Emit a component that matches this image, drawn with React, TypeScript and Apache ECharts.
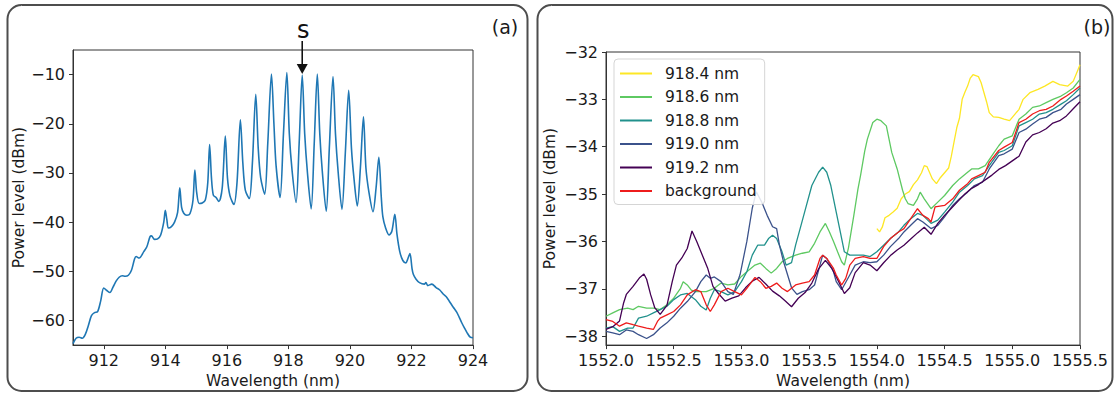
import React, { useEffect, useRef } from "react";
import * as echarts from "echarts";

// ---------- Panel (a): comb spectrum ----------
const combSpectrum: [number, number][] = [
  [911.0, -64.7], [911.1, -63.6], [911.2, -63.4], [911.3, -63.6], [911.4, -62.8], [911.5, -61.0],
  [911.6, -59.0], [911.7, -58.4], [911.8, -58.2], [911.9, -56.0], [912.0, -53.4], [912.1, -53.9],
  [912.2, -54.3], [912.3, -53.2], [912.4, -52.0], [912.5, -51.2], [912.6, -50.9], [912.7, -51.0],
  [912.8, -50.8], [912.9, -49.8], [913.0, -47.5], [913.05, -47.0], [913.15, -47.3], [913.3, -46.0],
  [913.4, -45.0], [913.5, -43.0], [913.55, -42.8], [913.65, -43.5], [913.75, -43.4], [913.85, -42.6],
  [913.95, -40.0], [914.0, -37.6], [914.05, -39.5], [914.1, -41.2], [914.2, -40.9], [914.3, -40.0],
  [914.4, -38.0], [914.47, -33.0], [914.53, -37.0], [914.6, -38.2], [914.7, -38.6], [914.8, -38.3],
  [914.9, -35.5], [914.96, -29.4], [915.02, -34.0], [915.1, -36.2], [915.2, -36.1], [915.3, -35.5],
  [915.38, -32.0], [915.44, -24.2], [915.5, -31.0], [915.56, -34.5], [915.65, -35.0], [915.74, -35.8],
  [915.85, -33.0], [915.95, -22.5], [916.02, -31.0], [916.1, -34.6], [916.23, -36.4], [916.33, -32.0],
  [916.44, -19.2], [916.52, -28.0], [916.6, -33.5], [916.73, -35.2], [916.83, -28.0], [916.94, -14.0],
  [917.02, -25.0], [917.1, -31.0], [917.23, -34.3], [917.33, -24.0], [917.45, -9.9], [917.53, -20.0],
  [917.6, -28.5], [917.73, -35.0], [917.84, -22.0], [917.95, -9.6], [918.03, -22.0], [918.12, -29.5],
  [918.25, -36.0], [918.35, -24.0], [918.45, -10.1], [918.53, -22.0], [918.62, -30.0], [918.74, -37.3],
  [918.84, -24.0], [918.94, -9.9], [919.02, -22.0], [919.1, -29.5], [919.23, -37.8], [919.33, -25.0],
  [919.45, -10.4], [919.53, -22.0], [919.62, -30.0], [919.74, -37.4], [919.85, -26.0], [919.96, -13.2],
  [920.05, -25.0], [920.13, -31.0], [920.24, -36.7], [920.34, -29.0], [920.44, -18.6], [920.52, -29.0],
  [920.62, -34.0], [920.75, -37.9], [920.85, -33.0], [920.94, -26.8], [921.02, -35.0], [921.07, -38.9],
  [921.16, -41.2], [921.27, -42.6], [921.36, -41.9], [921.46, -38.4], [921.53, -42.5], [921.62, -46.0],
  [921.72, -47.8], [921.82, -48.3], [921.88, -47.5], [921.95, -46.4], [922.02, -49.5], [922.06, -50.6],
  [922.15, -51.6], [922.26, -52.3], [922.42, -52.6], [922.47, -52.3], [922.53, -52.9], [922.66, -52.6],
  [922.8, -53.3], [922.92, -53.8], [923.03, -54.6], [923.15, -55.3], [923.25, -56.3], [923.36, -57.3],
  [923.47, -58.3], [923.55, -59.3], [923.63, -60.4], [923.72, -61.5], [923.8, -62.4], [923.91, -63.4],
  [924.0, -63.5],
];

// ---------- Panel (b): spectra per pump wavelength ----------
const s918_4: [number, number][] = [
  [1554.0, -35.73], [1554.02, -35.8], [1554.04, -35.7], [1554.06, -35.5], [1554.09, -35.45], [1554.12, -35.38],
  [1554.15, -35.3], [1554.18, -35.1], [1554.21, -35.0], [1554.24, -34.95], [1554.27, -34.8], [1554.3, -34.7],
  [1554.33, -34.55], [1554.35, -34.4], [1554.37, -34.42], [1554.39, -34.55], [1554.41, -34.68], [1554.44, -34.78],
  [1554.47, -34.65], [1554.5, -34.55], [1554.53, -34.45], [1554.55, -34.2], [1554.57, -33.9], [1554.59, -33.6],
  [1554.61, -33.4], [1554.63, -33.0], [1554.65, -32.85], [1554.67, -32.72], [1554.69, -32.55], [1554.71, -32.48],
  [1554.73, -32.5], [1554.75, -32.52], [1554.77, -32.65], [1554.79, -32.85], [1554.81, -33.05], [1554.83, -33.28],
  [1554.86, -33.37], [1554.9, -33.38], [1554.94, -33.42], [1554.98, -33.45], [1555.0, -33.38], [1555.05, -33.21],
  [1555.08, -33.0], [1555.13, -32.86], [1555.19, -32.79], [1555.24, -32.72], [1555.3, -32.62], [1555.35, -32.69],
  [1555.41, -32.72], [1555.45, -32.62], [1555.48, -32.41], [1555.5, -32.27],
];
const s918_6: [number, number][] = [
  [1552.0, -37.58], [1552.05, -37.51], [1552.1, -37.44], [1552.16, -37.41], [1552.2, -37.44], [1552.24, -37.37],
  [1552.3, -37.41], [1552.35, -37.41], [1552.4, -37.44], [1552.45, -37.34], [1552.5, -37.2], [1552.55, -36.99],
  [1552.57, -36.85], [1552.6, -36.92], [1552.63, -37.03], [1552.66, -37.06], [1552.7, -37.06], [1552.74, -37.06],
  [1552.8, -36.99], [1552.85, -36.88], [1552.9, -36.92], [1552.95, -36.9], [1553.0, -36.74], [1553.04, -36.64],
  [1553.1, -36.5], [1553.14, -36.46], [1553.18, -36.57], [1553.22, -36.67], [1553.26, -36.57], [1553.3, -36.43],
  [1553.34, -36.36], [1553.4, -36.29], [1553.45, -36.25], [1553.5, -36.22], [1553.54, -36.04], [1553.58, -35.8],
  [1553.62, -35.62], [1553.65, -35.8], [1553.68, -36.0], [1553.71, -36.22], [1553.74, -36.43], [1553.76, -36.5],
  [1553.79, -36.14], [1553.83, -35.45], [1553.86, -34.9], [1553.88, -34.6], [1553.91, -34.1], [1553.93, -33.84],
  [1553.97, -33.49], [1554.0, -33.42], [1554.03, -33.45], [1554.07, -33.56], [1554.11, -34.12], [1554.15, -34.47],
  [1554.19, -34.92], [1554.21, -35.1], [1554.23, -35.2], [1554.27, -35.24], [1554.3, -35.1], [1554.32, -34.96],
  [1554.35, -35.1], [1554.4, -35.31], [1554.45, -35.17], [1554.5, -35.03], [1554.56, -34.82], [1554.61, -34.68],
  [1554.67, -34.54], [1554.7, -34.47], [1554.75, -34.47], [1554.8, -34.4], [1554.85, -34.19], [1554.9, -33.98],
  [1554.94, -33.84], [1555.0, -33.77], [1555.05, -33.42], [1555.1, -33.31], [1555.15, -33.17], [1555.2, -33.14],
  [1555.25, -33.07], [1555.3, -33.0], [1555.36, -32.93], [1555.4, -32.86], [1555.45, -32.76], [1555.5, -32.58],
];
const s918_8: [number, number][] = [
  [1552.0, -37.83], [1552.05, -37.8], [1552.1, -37.9], [1552.16, -37.83], [1552.2, -37.83], [1552.24, -37.62],
  [1552.3, -37.58], [1552.35, -37.51], [1552.4, -37.44], [1552.45, -37.37], [1552.5, -37.23], [1552.55, -37.13],
  [1552.6, -37.1], [1552.66, -37.23], [1552.7, -37.37], [1552.74, -37.45], [1552.77, -37.2], [1552.8, -37.02],
  [1552.85, -37.06], [1552.9, -37.13], [1552.95, -37.06], [1553.0, -36.85], [1553.04, -36.64], [1553.08, -36.29],
  [1553.12, -36.08], [1553.17, -36.08], [1553.2, -35.94], [1553.23, -35.87], [1553.26, -35.94], [1553.3, -36.22],
  [1553.33, -36.5], [1553.37, -36.45], [1553.4, -36.08], [1553.44, -35.66], [1553.48, -35.24], [1553.52, -34.82],
  [1553.57, -34.54], [1553.6, -34.43], [1553.63, -34.54], [1553.66, -34.82], [1553.7, -35.38], [1553.73, -35.8],
  [1553.76, -36.22], [1553.8, -36.29], [1553.84, -36.29], [1553.9, -36.29], [1553.95, -36.32], [1554.0, -36.22],
  [1554.05, -36.08], [1554.1, -35.94], [1554.16, -35.8], [1554.2, -35.66], [1554.25, -35.52], [1554.3, -35.41],
  [1554.34, -35.45], [1554.4, -35.62], [1554.45, -35.55], [1554.5, -35.38], [1554.56, -35.17], [1554.61, -34.96],
  [1554.67, -34.82], [1554.72, -34.68], [1554.78, -34.61], [1554.83, -34.4], [1554.9, -34.12], [1554.94, -34.08],
  [1555.0, -33.98], [1555.05, -33.56], [1555.1, -33.49], [1555.15, -33.42], [1555.2, -33.31], [1555.25, -33.28],
  [1555.3, -33.21], [1555.36, -33.1], [1555.4, -33.03], [1555.45, -32.9], [1555.5, -32.76],
];
const s919_0: [number, number][] = [
  [1552.0, -37.9], [1552.05, -37.93], [1552.1, -37.97], [1552.15, -37.87], [1552.2, -37.9], [1552.24, -37.97],
  [1552.3, -38.05], [1552.35, -37.97], [1552.4, -37.83], [1552.45, -37.72], [1552.5, -37.58], [1552.55, -37.41],
  [1552.6, -37.27], [1552.66, -37.06], [1552.7, -36.85], [1552.74, -36.71], [1552.77, -36.78], [1552.8, -36.75],
  [1552.85, -36.85], [1552.9, -37.06], [1552.94, -37.12], [1552.99, -36.7], [1553.04, -36.0], [1553.08, -35.3],
  [1553.11, -34.95], [1553.15, -35.17], [1553.19, -35.45], [1553.23, -35.69], [1553.26, -35.73], [1553.28, -36.07],
  [1553.31, -36.42], [1553.34, -36.7], [1553.37, -36.98], [1553.41, -37.12], [1553.45, -37.06], [1553.5, -37.02],
  [1553.54, -36.92], [1553.58, -36.5], [1553.6, -36.29], [1553.63, -36.36], [1553.68, -36.64], [1553.7, -36.85],
  [1553.74, -37.02], [1553.8, -36.71], [1553.84, -36.5], [1553.9, -36.43], [1553.95, -36.45], [1554.0, -36.43],
  [1554.05, -36.29], [1554.1, -36.11], [1554.16, -35.94], [1554.2, -35.8], [1554.25, -35.66], [1554.3, -35.52],
  [1554.34, -35.59], [1554.4, -35.73], [1554.45, -35.66], [1554.5, -35.48], [1554.56, -35.24], [1554.61, -35.1],
  [1554.67, -34.96], [1554.72, -34.82], [1554.78, -34.75], [1554.83, -34.47], [1554.9, -34.19], [1554.94, -34.15],
  [1555.0, -34.05], [1555.05, -33.7], [1555.1, -33.63], [1555.15, -33.52], [1555.2, -33.42], [1555.25, -33.38],
  [1555.3, -33.28], [1555.36, -33.21], [1555.4, -33.1], [1555.45, -33.0], [1555.5, -32.9],
];
const s919_2: [number, number][] = [
  [1552.0, -37.86], [1552.05, -37.8], [1552.1, -37.68], [1552.13, -37.3], [1552.15, -37.12], [1552.2, -36.95],
  [1552.25, -36.76], [1552.28, -36.69], [1552.3, -36.8], [1552.33, -37.13], [1552.36, -37.4], [1552.4, -37.54],
  [1552.45, -37.35], [1552.49, -36.84], [1552.52, -36.5], [1552.56, -36.35], [1552.6, -36.15], [1552.635, -35.78],
  [1552.67, -36.0], [1552.71, -36.28], [1552.75, -36.56], [1552.79, -36.95], [1552.83, -37.1], [1552.88, -37.26],
  [1552.93, -37.2], [1552.98, -37.15], [1553.03, -36.98], [1553.08, -36.84], [1553.13, -36.76], [1553.18, -36.9],
  [1553.23, -37.05], [1553.28, -37.15], [1553.32, -37.25], [1553.37, -37.38], [1553.42, -37.2], [1553.47, -37.08],
  [1553.52, -36.88], [1553.57, -36.58], [1553.62, -36.4], [1553.67, -36.58], [1553.72, -36.86], [1553.76, -37.1],
  [1553.8, -36.98], [1553.84, -36.66], [1553.9, -36.45], [1553.95, -36.5], [1554.0, -36.62], [1554.05, -36.45],
  [1554.1, -36.3], [1554.15, -36.18], [1554.2, -36.08], [1554.25, -35.95], [1554.3, -35.82], [1554.35, -35.7],
  [1554.4, -35.85], [1554.45, -35.62], [1554.5, -35.45], [1554.55, -35.3], [1554.6, -35.15], [1554.65, -35.0],
  [1554.7, -34.88], [1554.75, -34.8], [1554.8, -34.7], [1554.85, -34.6], [1554.9, -34.48], [1554.95, -34.4],
  [1555.0, -34.3], [1555.05, -34.2], [1555.1, -33.9], [1555.15, -33.75], [1555.2, -33.7], [1555.25, -33.62],
  [1555.3, -33.5], [1555.35, -33.45], [1555.4, -33.35], [1555.45, -33.2], [1555.5, -33.05],
];
const sBackground: [number, number][] = [
  [1552.0, -37.65], [1552.05, -37.69], [1552.1, -37.79], [1552.15, -37.72], [1552.2, -37.76], [1552.24, -37.79],
  [1552.3, -37.83], [1552.35, -37.86], [1552.38, -37.69], [1552.4, -37.62], [1552.45, -37.55], [1552.5, -37.48],
  [1552.55, -37.34], [1552.6, -37.13], [1552.66, -37.02], [1552.7, -37.06], [1552.74, -37.34], [1552.77, -37.48],
  [1552.8, -37.34], [1552.85, -37.06], [1552.9, -36.99], [1552.95, -37.06], [1553.0, -37.13], [1553.04, -36.99],
  [1553.1, -36.76], [1553.14, -36.85], [1553.18, -36.99], [1553.22, -36.95], [1553.26, -36.88], [1553.3, -36.99],
  [1553.34, -37.06], [1553.37, -36.99], [1553.4, -36.92], [1553.45, -36.88], [1553.5, -36.85], [1553.54, -36.71],
  [1553.58, -36.36], [1553.6, -36.29], [1553.63, -36.36], [1553.68, -36.57], [1553.7, -36.71], [1553.74, -36.92],
  [1553.77, -36.78], [1553.8, -36.5], [1553.84, -36.36], [1553.9, -36.32], [1553.95, -36.36], [1554.0, -36.36],
  [1554.05, -36.11], [1554.1, -35.94], [1554.16, -35.8], [1554.2, -35.73], [1554.25, -35.52], [1554.3, -35.31],
  [1554.34, -35.45], [1554.38, -35.52], [1554.4, -35.59], [1554.43, -35.27], [1554.5, -35.24], [1554.56, -35.1],
  [1554.61, -34.92], [1554.67, -34.78], [1554.7, -34.68], [1554.75, -34.61], [1554.8, -34.54], [1554.83, -34.33],
  [1554.9, -34.08], [1554.94, -34.01], [1555.0, -33.91], [1555.05, -33.49], [1555.1, -33.42], [1555.15, -33.31],
  [1555.2, -33.24], [1555.25, -33.21], [1555.3, -33.14], [1555.36, -33.0], [1555.4, -32.93], [1555.45, -32.83],
  [1555.5, -32.72],
];

const seriesNames = ["918.4 nm", "918.6 nm", "918.8 nm", "919.0 nm", "919.2 nm", "background"];
const seriesColors = ["#fde725", "#5ec962", "#21918c", "#3b528b", "#440154", "#ee1c1c"];
const seriesData = [s918_4, s918_6, s918_8, s919_0, s919_2, sBackground];

const leftXTicks = [912, 914, 916, 918, 920, 922, 924];
const leftYTicks = [-60, -50, -40, -30, -20, -10];
const rightYTicks = [-38, -37, -36, -35, -34, -33, -32];
const markedPeak: [number, number] = [918.45, -10.1];

const FONT = "DejaVu Sans";
const TXT = "#1a1a1a";
const AX = "#333";
const TICK_FS = 16;
const NAME_FS = 15.5;

const minusFmt = (v: number) => (v < 0 ? "\u2212" + Math.abs(v) : String(v));

export default function App() {
  const ref = useRef<HTMLDivElement>(null);
  useEffect(() => {
    if (!ref.current) return;
    const chart = echarts.init(ref.current, undefined, { renderer: "svg" });
    const axisCommon = {
      axisLine: { show: true, onZero: false, lineStyle: { color: AX, width: 1 } },
      axisTick: { show: true, inside: false, length: 4, lineStyle: { color: AX } },
      splitLine: { show: false },
      nameTextStyle: { fontFamily: FONT, fontSize: NAME_FS, color: TXT },
      nameLocation: "middle" as const,
    };
    const labelCommon = { fontFamily: FONT, fontSize: TICK_FS, color: TXT };
    chart.setOption({
      animation: false,
      backgroundColor: "#fff",
      grid: [
        { left: 73, top: 50, width: 400, height: 298, show: true, borderColor: AX, borderWidth: 1, backgroundColor: "transparent" },
        { left: 606, top: 52, width: 474, height: 295, show: true, borderColor: AX, borderWidth: 1, backgroundColor: "transparent" },
      ],
      xAxis: [
        {
          ...axisCommon, type: "value", gridIndex: 0, min: 911, max: 924,
          name: "Wavelength (nm)", nameGap: 26,
          axisLabel: { ...labelCommon, margin: 7, customValues: leftXTicks },
          axisTick: { ...axisCommon.axisTick, customValues: leftXTicks },
        },
        {
          ...axisCommon, type: "value", gridIndex: 1, min: 1552, max: 1555.5, interval: 0.5,
          name: "Wavelength (nm)", nameGap: 25,
          axisLabel: { ...labelCommon, margin: 7, formatter: (v: number) => v.toFixed(1), showMaxLabel: true, showMinLabel: true },
        },
      ],
      yAxis: [
        {
          ...axisCommon, type: "value", gridIndex: 0, min: -65, max: -5,
          name: "Power level (dBm)", nameGap: 44,
          axisLabel: { ...labelCommon, margin: 8, formatter: minusFmt, customValues: leftYTicks },
          axisTick: { ...axisCommon.axisTick, customValues: leftYTicks },
        },
        {
          ...axisCommon, type: "value", gridIndex: 1, min: -38.19, max: -32,
          name: "Power level (dBm)", nameGap: 48,
          axisLabel: { ...labelCommon, margin: 8, formatter: minusFmt, customValues: rightYTicks },
          axisTick: { ...axisCommon.axisTick, customValues: rightYTicks },
        },
      ],
      legend: {
        data: seriesNames.map((n) => ({ name: n, icon: "rect" })),
        orient: "vertical",
        left: 614,
        top: 59,
        itemWidth: 32,
        itemHeight: 2,
        itemGap: 6.5,
        padding: [6, 8, 5, 6],
        borderColor: "#d5d5d5",
        borderWidth: 1,
        borderRadius: 4,
        backgroundColor: "rgba(255,255,255,0.85)",
        textStyle: { fontFamily: FONT, fontSize: 15.5, color: TXT, lineHeight: 17, padding: [0, 0, 0, 8] },
        selectedMode: false,
      },
      series: [
        {
          type: "line", name: "spectrum", xAxisIndex: 0, yAxisIndex: 0, data: combSpectrum,
          showSymbol: false, symbol: "none", smooth: 0.3, clip: true,
          lineStyle: { color: "#1f77b4", width: 1.6 }, itemStyle: { color: "#1f77b4" },
        },
        ...seriesNames.map((n, i) => ({
          type: "line", name: n, xAxisIndex: 1, yAxisIndex: 1, data: seriesData[i],
          showSymbol: false, symbol: "none", clip: true,
          lineStyle: { color: seriesColors[i], width: 1.3 }, itemStyle: { color: seriesColors[i] },
        })),
      ],
    });

    const tip = chart.convertToPixel({ gridIndex: 0 }, markedPeak) as number[];
    const ax = tip[0];
    const ty = tip[1] - 1;
    chart.setOption({
      graphic: [
        { type: "rect", shape: { x: 7.5, y: 5, width: 520, height: 386, r: 14 }, style: { fill: "none", stroke: "#4d4d4d", lineWidth: 2 } },
        { type: "rect", shape: { x: 537.5, y: 5, width: 575, height: 386, r: 14 }, style: { fill: "none", stroke: "#4d4d4d", lineWidth: 2 } },
        { type: "text", x: 505, y: 27, style: { text: "(a)", fontFamily: FONT, fontSize: 19, fill: TXT, align: "center", verticalAlign: "middle" } },
        { type: "text", x: 1097, y: 27, style: { text: "(b)", fontFamily: FONT, fontSize: 19, fill: TXT, align: "center", verticalAlign: "middle" } },
        { type: "text", x: ax + 1, y: 30, style: { text: "s", fontFamily: FONT, fontSize: 24, fill: "#111", align: "center", verticalAlign: "middle" } },
        { type: "line", shape: { x1: ax, y1: 41, x2: ax, y2: ty - 8 }, style: { stroke: "#111", lineWidth: 1.6 } },
        { type: "polygon", shape: { points: [[ax - 5.5, ty - 10], [ax + 5.5, ty - 10], [ax, ty]] }, style: { fill: "#111" } },
      ],
    });
    return () => chart.dispose();
  }, []);
  return <div ref={ref} style={{ position: "fixed", left: 0, top: 0, width: 1116, height: 394 }} />;
}
